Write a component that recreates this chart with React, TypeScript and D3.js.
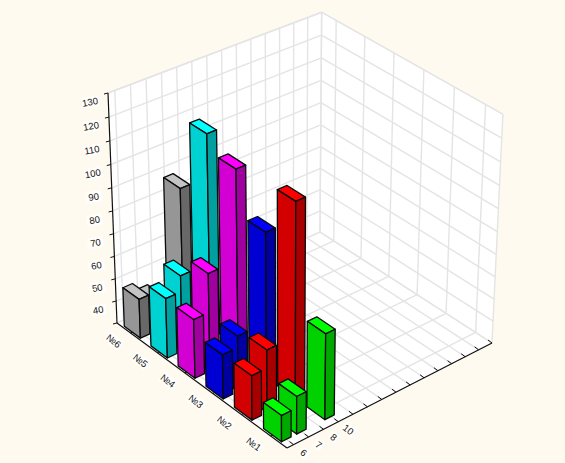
import React from "react";
import * as d3 from "d3";

const W = 565, H = 463;
const categories = ["№6", "№5", "№4", "№3", "№2", "№1"];
const depthLabels = ["6", "7", "8", "10"];
const depthTicks = d3.range(0, 15);
const depthRows = [0, 1, 2.9];
const zTicks = [30, 40, 50, 60, 70, 80, 90, 100, 110, 120, 130];
const row6 = [47.5, 56.5, 56, 49.5, 49.5, 41.5];
const row7 = [44, 63.5, 73, 54.5, 57.5, 46.5];
const row10 = [88, 119, 112, 93.5, 114.5, 67.5];
const rows = [row6, row7, row10];
const faceColors = [
  ["#c4c4c4", "#969696", "#686868"],
  ["#00ffff", "#00d2d2", "#00a0a0"],
  ["#ff00ff", "#d200d2", "#a000a0"],
  ["#0000ff", "#0000d2", "#0000a0"],
  ["#ff0000", "#d20000", "#a80000"],
  ["#00ff00", "#00d200", "#00a800"],
];

type P = [number, number];
// Visible corners of the plot cube
const O: P = [117, 323];   // x0 y0 z0
const A: P = [287, 448];   // x1 y0 z0
const B: P = [320, 232];   // x0 y1 z0
const R: P = [492, 343];   // x1 y1 z0
const TL: P = [108, 93];   // x0 y0 z1
const TR: P = [503, 112];  // x1 y1 z1

const meet = (p1: P, p2: P, p3: P, p4: P): P => {
  const d = (p1[0] - p2[0]) * (p3[1] - p4[1]) - (p1[1] - p2[1]) * (p3[0] - p4[0]);
  const s = p1[0] * p2[1] - p1[1] * p2[0];
  const t = p3[0] * p4[1] - p3[1] * p4[0];
  return [(s * (p3[0] - p4[0]) - (p1[0] - p2[0]) * t) / d, (s * (p3[1] - p4[1]) - (p1[1] - p2[1]) * t) / d];
};
const vx = meet(O, A, B, R);
const vy = meet(O, B, A, R);
const vz = meet(TL, O, TR, R);
const a = (A[0] - O[0]) / (vx[0] - A[0]);
const b = (B[0] - O[0]) / (vy[0] - B[0]);
const c = (TL[1] - O[1]) / (vz[1] - TL[1]);
const proj = (x: number, y: number, z: number): P => {
  const w = a * x + b * y + c * z + 1;
  return [
    (a * x * vx[0] + b * y * vy[0] + c * z * vz[0] + O[0]) / w,
    (a * x * vx[1] + b * y * vy[1] + c * z * vz[1] + O[1]) / w,
  ];
};

const xScale = d3.scaleLinear().domain([0, 5]).range([0.085, 0.91]);
const yScale = d3.scaleLinear().domain([0, 14]).range([0.03, 1]);
const zScale = d3.scaleLinear().domain([30, 130]).range([0, 1]);
const barW = 0.1, barD = 0.044;

const line = d3.line<P>();
const poly = (pts: P[]) => line(pts) + "Z";
const GRID = "#e4e4e4";

const Label = ({ p, t, r, w = 17, h: hh = 11 }: any) => (
  <g transform={`translate(${p[0]},${p[1]}) rotate(${r})`}>
    <rect x={-w / 2} y={-hh / 2} width={w} height={hh} fill="#fff" fillOpacity={0.75} />
    <text textAnchor="middle" dy="0.35em" fontSize={9.5} fontFamily="'Liberation Sans', Arial, sans-serif" fill="#111">{t}</text>
  </g>
);

export default function App() {
  const seg = (p: P, q: P, k: string, s = GRID, sw = 1.4) => (
    <line key={k} x1={p[0]} y1={p[1]} x2={q[0]} y2={q[1]} stroke={s} strokeWidth={sw} />
  );
  const bars: { x: number; y: number; v: number; c: number }[] = [];
  [2, 1, 0].forEach((r) =>
    categories.forEach((_, i) => bars.push({ x: i, y: depthRows[r], v: rows[r][i], c: i }))
  );
  return (
    <svg width={W} height={H} style={{ position: "absolute", left: 0, top: 0, background: "#fffaf0" }}>
      <path d={poly([proj(0, 0, 0), proj(0, 1, 0), proj(1, 1, 0), proj(1, 0, 0)])} fill="#fff" />
      <path d={poly([proj(0, 0, 0), proj(0, 1, 0), proj(0, 1, 1), proj(0, 0, 1)])} fill="#fff" />
      <path d={poly([proj(0, 1, 0), proj(1, 1, 0), proj(1, 1, 1), proj(0, 1, 1)])} fill="#fff" />
      {zTicks.map((t) => {
        const z = zScale(t);
        return (
          <g key={t}>
            {seg(proj(0, 0, z), proj(0, 1, z), "a")}
            {seg(proj(0, 1, z), proj(1, 1, z), "b")}
          </g>
        );
      })}
      {depthTicks.map((t) => {
        const y = yScale(t);
        return (
          <g key={t}>
            {seg(proj(0, y, 0), proj(1, y, 0), "a")}
            {seg(proj(0, y, 0), proj(0, y, 1), "b")}
          </g>
        );
      })}
      {categories.map((cat, i) => {
        const x = xScale(i);
        return (
          <g key={cat + i}>
            {seg(proj(x, 0, 0), proj(x, 1, 0), "a")}
            {seg(proj(x, 1, 0), proj(x, 1, 1), "b")}
          </g>
        );
      })}
      {seg(proj(0, 1, 0), proj(0, 1, 1), "corner")}
      {seg(proj(1, 1, 0), proj(1, 1, 1), "edgeR")}
      {seg(proj(0, 1, 1), proj(1, 1, 1), "edgeT")}
      {seg(proj(0, 0, 1), proj(0, 1, 1), "edgeL")}

      {seg(proj(0, 0, 0), proj(0, 0, 1), "zAxis", "#111", 1.2)}
      {seg(proj(0, 0, 0), proj(1, 0, 0), "xAxis", "#111", 1.2)}
      {seg(proj(1, 0, 0), proj(1, 1, 0), "yAxis", "#111", 1.2)}
      {zTicks.map((t) => {
        const p = proj(0, 0, zScale(t));
        const lab: P = [p[0] - 18, p[1] + 9];
        return (
          <g key={t}>
            {seg(p, [p[0] - 4, p[1] + 1], "t", "#111", 1)}
            {t > 30 && <Label p={lab} t={String(t)} r={-10} w={16} />}
          </g>
        );
      })}
      {categories.map((cat, i) => {
        const p = proj(xScale(i), 0, 0);
        return (
          <g key={cat + i}>
            {seg(p, [p[0] + 3, p[1] - 1.5], "t", "#111", 1)}
            <Label p={[p[0] - 17, p[1] + 8]} t={cat} r={38} />
          </g>
        );
      })}
      {depthTicks.map((t) => {
        const p = proj(1, yScale(t), 0);
        return (
          <g key={t}>
            {seg(p, [p[0] - 4, p[1] - 3], "t", "#111", 1)}
            {t < depthLabels.length && (
              <Label p={[p[0] + 10, p[1] + 8]} t={depthLabels[t]} r={38} w={t === 3 ? 14 : 9} h={10} />
            )}
          </g>
        );
      })}

      {bars.map((br, i) => {
        const x0 = xScale(br.x) - barW / 2, x1 = xScale(br.x) + barW / 2;
        const y0 = yScale(br.y) - barD / 2, y1 = yScale(br.y) + barD / 2;
        const z = zScale(br.v);
        const col = faceColors[br.c];
        const st = { stroke: "#0a0a0a", strokeWidth: 1.3, strokeLinejoin: "round" as const };
        return (
          <g key={i}>
            <path d={poly([proj(x0, y0, z), proj(x1, y0, z), proj(x1, y1, z), proj(x0, y1, z)])} fill={col[0]} {...st} />
            <path d={poly([proj(x0, y0, 0), proj(x1, y0, 0), proj(x1, y0, z), proj(x0, y0, z)])} fill={col[1]} {...st} />
            <path d={poly([proj(x1, y0, 0), proj(x1, y1, 0), proj(x1, y1, z), proj(x1, y0, z)])} fill={col[2]} {...st} />
          </g>
        );
      })}
    </svg>
  );
}
